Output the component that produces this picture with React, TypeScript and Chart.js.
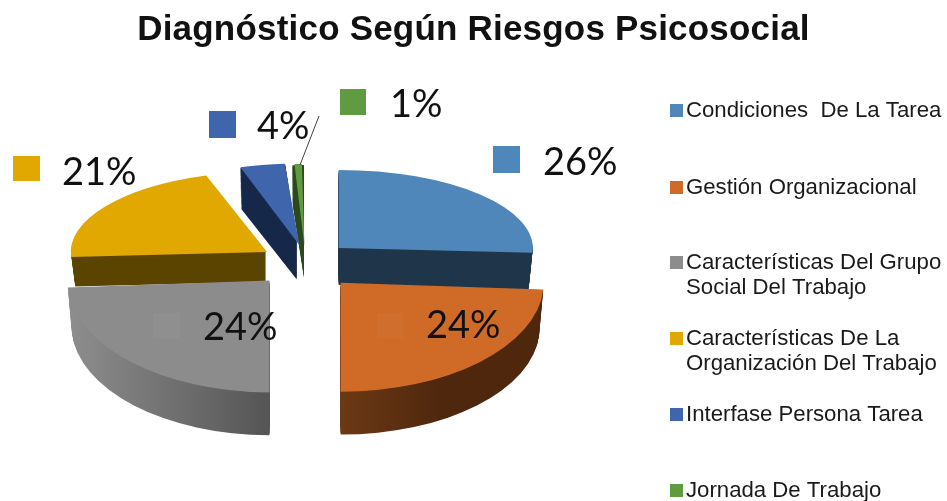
import React, { useEffect, useRef } from "react";
import { Chart, registerables } from "chart.js";

Chart.register(...registerables);

const chartTitle = "Diagnóstico Según Riesgos Psicosocial";
const categories = [
  ["Condiciones  De La Tarea"],
  ["Gestión Organizacional"],
  ["Características Del Grupo", "Social Del Trabajo"],
  ["Características De La", "Organización Del Trabajo"],
  ["Interfase Persona Tarea"],
  ["Jornada De Trabajo"],
];
const values = [26, 24, 24, 21, 4, 1];

const colors = ["#4f87bb", "#cf6b27", "#8c8c8c", "#e0a800", "#3f66ad", "#5f9b41"];
const wallStops = [
  ["#1f3549", "#1f3549"],
  ["#6d3915", "#4e270d"],
  ["#8e8e8e", "#555555"],
  ["#5a4400", "#5a4400"],
  ["#16284a", "#16284a"],
  ["#2a4a1c", "#2a4a1c"],
];
const offsets = [196, 208, 200, 178, 82, 74];
const faces = [
  { cx: 304, cy: 261, sx: 0.97, k: 0.39, depth: 37 },
  { cx: 304.5, cy: 262, sx: 1.015, k: 0.545, depth: 45 },
  { cx: 304, cy: 260, sx: 1.01, k: 0.56, depth: 45 },
  { cx: 303, cy: 262, sx: 0.975, k: 0.4, depth: 30 },
  { cx: 303, cy: 253, sx: 0.92, k: 0.38, depth: 40 },
  { cx: 305, cy: 253.6, sx: 0.92, k: 0.38, depth: 38 },
];
const drawOrder = [5, 4, 3, 0, 2, 1];

const dataLabelSpots = [
  { square: [493, 146, 27, 27], x: 543, y: 175 },
  { square: [377, 313, 26, 25], x: 426, y: 338, faint: true },
  { square: [153, 313, 27, 25], x: 203, y: 340, faint: true },
  { square: [13, 156, 27, 25], x: 62, y: 185 },
  { square: [209, 111, 27, 27], x: 257, y: 139 },
  { square: [340, 89, 26, 26], x: 390, y: 117 },
];
const legendCenters = [110, 187, 262, 338, 414, 490];

const pie3d = {
  id: "pie3d",
  beforeDraw(chart: any) {
    chart.ctx.letterSpacing = "0.2px";
  },
  beforeDatasetDraw() {
    return false;
  },
  afterDatasetsDraw(chart: any) {
    const ctx = chart.ctx;
    ctx.letterSpacing = "0px";
    const arcs = chart.getDatasetMeta(0).data;
    drawOrder.forEach((i) => {
      const arc = arcs[i];
      const f = faces[i];
      const circ = arc.endAngle - arc.startAngle;
      const fix = 1 - Math.sin(Math.min(Math.PI, circ));
      const offset = (arc.options.offset / 4) * (1 + fix);
      const mid = (arc.startAngle + arc.endAngle) / 2;
      const tipX = Math.cos(mid) * offset;
      const tipY = Math.sin(mid) * offset;
      const grad = ctx.createLinearGradient(tipX - arc.outerRadius, 0, tipX + arc.outerRadius, 0);
      const stops = wallStops[i];
      if (i === 2) {
        grad.addColorStop(0, stops[0]);
        grad.addColorStop(0.5, stops[1]);
        grad.addColorStop(1, stops[1]);
      } else if (i === 1) {
        grad.addColorStop(0, stops[0]);
        grad.addColorStop(0.5, stops[0]);
        grad.addColorStop(0.75, stops[1]);
        grad.addColorStop(1, stops[1]);
      } else {
        grad.addColorStop(0, stops[0]);
        grad.addColorStop(1, stops[1]);
      }
      for (let d = f.depth; d >= 1; d--) {
        const shrink = 1 - (d / f.depth) * 0.02;
        ctx.save();
        ctx.translate(f.cx, f.cy + d);
        ctx.scale(f.sx, f.k);
        ctx.beginPath();
        ctx.moveTo(tipX, tipY);
        ctx.arc(tipX, tipY, arc.outerRadius * shrink, arc.startAngle, arc.endAngle);
        ctx.closePath();
        ctx.fillStyle = grad;
        ctx.fill();
        ctx.restore();
      }
      ctx.save();
      ctx.translate(f.cx, f.cy);
      ctx.scale(f.sx, f.k);
      ctx.translate(-arc.x, -arc.y);
      arc.draw(ctx);
      ctx.restore();
    });

    // leader line of the smallest slice
    ctx.save();
    ctx.strokeStyle = "#444444";
    ctx.lineWidth = 1;
    ctx.beginPath();
    ctx.moveTo(300, 165);
    ctx.lineTo(319, 116);
    ctx.stroke();
    ctx.restore();

    // data labels with their colour keys
    ctx.save();
    ctx.textBaseline = "alphabetic";
    ctx.textAlign = "left";
    ctx.font = "38px Lato";
    values.forEach((v, i) => {
      const s = dataLabelSpots[i];
      ctx.fillStyle = s.faint ? "#ffffff" : colors[i];
      ctx.globalAlpha = s.faint ? 0.03 : 1;
      ctx.fillRect(s.square[0], s.square[1], s.square[2], s.square[3]);
      ctx.globalAlpha = 1;
      ctx.fillStyle = "#111111";
      ctx.fillText(`${v}%`, s.x, s.y);
    });

    // legend
    ctx.font = "22.2px 'Liberation Sans'";
    categories.forEach((lines, i) => {
      const c = legendCenters[i];
      ctx.fillStyle = colors[i];
      ctx.fillRect(670, c - 6, 13, 13);
      ctx.fillStyle = "#1a1a1a";
      lines.forEach((line, j) => {
        ctx.fillText(line, 686, c + 7 + j * 25);
      });
    });
    ctx.restore();
  },
};

export default function App() {
  const ref = useRef<HTMLCanvasElement>(null);
  useEffect(() => {
    document.body.style.margin = "0";
    const chart = new Chart(ref.current as HTMLCanvasElement, {
      type: "pie",
      data: {
        labels: categories.map((c) => c.join(" ")),
        datasets: [
          {
            data: values,
            backgroundColor: colors,
            borderWidth: 0,
            offset: offsets,
          },
        ],
      },
      options: {
        responsive: false,
        animation: false,
        radius: 200,
        plugins: {
          legend: { display: false },
          tooltip: { enabled: false },
          title: {
            display: true,
            text: chartTitle,
            color: "#111111",
            font: { family: "'Liberation Sans'", size: 35, weight: "bold" },
            padding: { top: 9, bottom: 10 },
          },
        },
      },
      plugins: [pie3d],
    } as any);
    return () => chart.destroy();
  }, []);
  return (
    <div style={{ position: "absolute", left: 0, top: 0, width: 947, height: 501, background: "#fff" }}>
      <canvas ref={ref} width={947} height={501} style={{ display: "block", filter: "blur(0.5px)" }} />
    </div>
  );
}
